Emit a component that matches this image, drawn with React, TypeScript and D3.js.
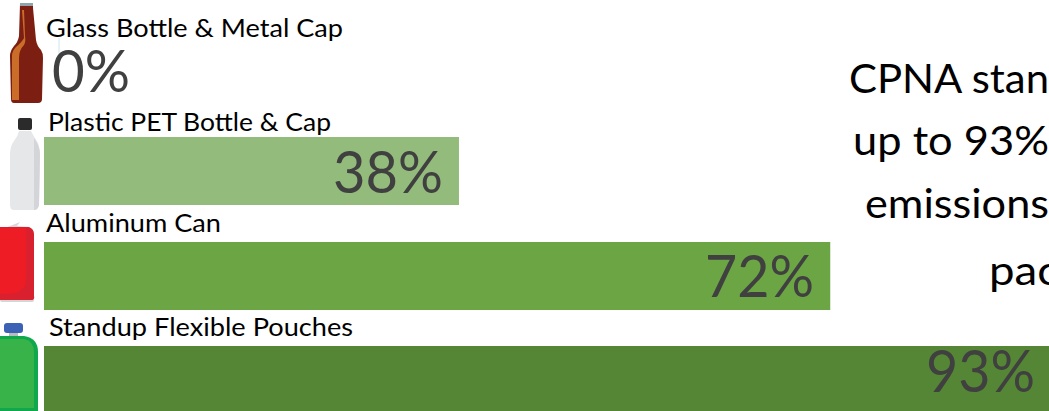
import React from "react";
import * as d3 from "d3";

const categories = ["Glass Bottle & Metal Cap", "Plastic PET Bottle & Cap", "Aluminum Can", "Standup Flexible Pouches"];
const values = [0, 38, 72, 93];
const barColors = ["#93bb7c", "#93bb7c", "#6ba544", "#558636"];
const calloutLines = ["CPNA stan", "up to 93%", "emissions", "pac"];

const W = 1049, H = 411;
const FONT = "Lato, 'Open Sans', sans-serif";
const labelX = [46, 48, 46, 49];
const labelY = [37, 131, 232, 336];
const labelW = [297, 283, 175, 304];
const barTop = [35, 137, 242, 346];
const pctX = [52, 333, 705, 926];
const pctBase = [92, 193, 297, 392];
const pctW = [78, 110, 109, 109];
const calloutX = [849, 853, 865, 989];
const calloutY = [93, 155, 218, 285];
const calloutW = [200, 196, 184, 70];

function Bottle() {
  return (
    <g>
      <path d="M20 4 H33 L33 8 L36 40 Q37 46 41 50 Q43 53 43 58 L42 99 Q42 103 38 103 H14 Q11 103 11 99 L10 56 Q10 51 14 46 Q18 42 19 36 Z" fill="#7c1f12" />
      <rect x="20" y="3" width="13" height="3" fill="#8fa3ad" />
      <path d="M22 10 L24 38 Q22 42 16 47 Q12 51 12 56 L12 100 H19 L19 58 Q19 50 24 45 Q26 42 25 36 L24 10 Z" fill="#c96d28" />
    </g>
  );
}
function PetBottle() {
  return (
    <g>
      <rect x="18" y="118" width="14" height="12" rx="2" fill="#2b2b2b" />
      <path d="M19 131 H31 Q34 137 38 143 Q40 148 40 155 L39 205 Q38 210 34 210 H14 Q10 210 10 205 L10 155 Q10 146 14 141 Q18 136 19 131 Z" fill="#e6e7e9" />
      <path d="M34 138 Q40 146 40 155 L39 205 Q38 210 34 210 Z" fill="#d3d5d8" />
    </g>
  );
}
function Can() {
  return (
    <g>
      <path d="M5 228 L20 222 L17 226 L30 227 Z" fill="#d9d9d9" />
      <rect x="0" y="298" width="34" height="4" rx="2" fill="#d5d5d5" />
      <path d="M2 227 H29 Q34 229 34 234 V296 Q35 300 31 300 H0 V227 Z" fill="#d9202e" />
      <path d="M0 228 H26 V280 Q26 293 8 294 H0 Z" fill="#ee1c25" />
    </g>
  );
}
function Pouch() {
  return (
    <g>
      <rect x="4" y="323" width="19" height="10" rx="3" fill="#3c62b5" />
      <rect x="9" y="333" width="9" height="3" fill="#b8bcc0" />
      <path d="M0 336 H24 Q38 338 38 352 V411 H0 Z" fill="#0fa84c" />
      <path d="M0 339 H24 Q34 341 34 352 V408 H0 Z" fill="#38b349" />
    </g>
  );
}

export default function App() {
  const x = d3.scaleLinear().domain([0, 100]).range([44, 44 + 1092]);
  const barH = 68;
  return (
    <svg width={W} height={H} viewBox={`0 0 ${W} ${H}`} style={{ position: "fixed", left: 0, top: 0, background: "#fff", display: "block" }}>
      <defs>
        <clipPath id="page"><rect width={W} height={H} /></clipPath>
      </defs>
      <g clipPath="url(#page)" fontFamily={FONT}>
        <Bottle />
        <PetBottle />
        <Can />
        <Pouch />
        <line x1="59" y1="38" x2="59" y2="62" stroke="#cfe6ee" strokeWidth="1" />
        {values.map((v, i) => (
          <g key={categories[i]}>
            {v > 0 && <rect x={x(0)} y={barTop[i]} width={x(v) - x(0)} height={barH} fill={barColors[i]} />}
            <text x={labelX[i]} y={labelY[i]} fontSize={25} fill="#000" textLength={labelW[i]} lengthAdjust="spacingAndGlyphs">{categories[i]}</text>
            <text x={pctX[i]} y={pctBase[i]} fontSize={58} fill="#404040" textLength={pctW[i]} lengthAdjust="spacingAndGlyphs">{d3.format(".0f")(v)}%</text>
          </g>
        ))}
        {calloutLines.map((t, i) => (
          <text key={t} x={calloutX[i]} y={calloutY[i]} fontSize={41} fill="#000" textLength={calloutW[i]} lengthAdjust="spacingAndGlyphs">{t}</text>
        ))}
      </g>
    </svg>
  );
}
